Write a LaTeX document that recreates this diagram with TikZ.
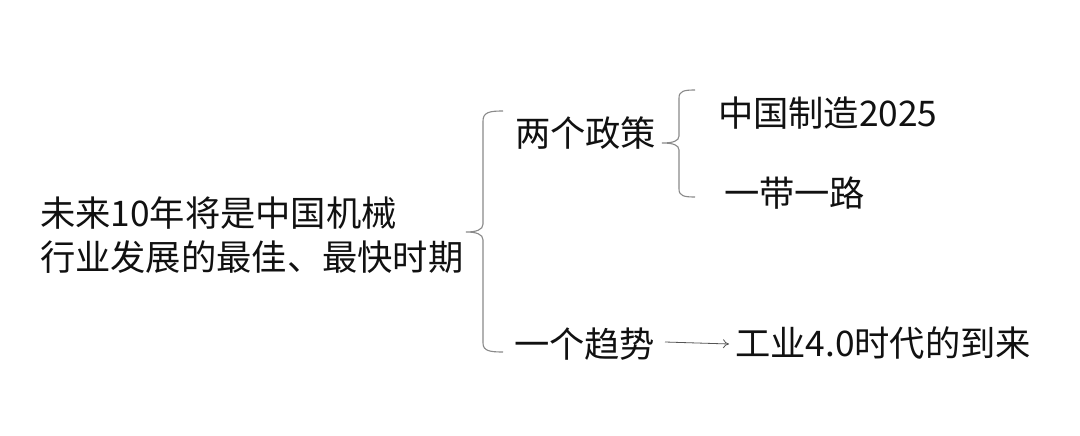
\documentclass[tikz,border=0pt]{standalone}
\usepackage{fontspec}
\newfontfamily\cjk{Noto Sans CJK SC}
\usetikzlibrary{arrows.meta}
\definecolor{txt}{HTML}{111111}
\definecolor{brc}{HTML}{8A8A8A}
\definecolor{arr}{HTML}{555555}
\begin{document}
\begin{tikzpicture}[x=1pt,y=-1pt,
  lbl/.style={inner sep=0pt,outer sep=0pt,anchor=west,text=txt,font=\cjk\fontsize{35.3}{44}\selectfont},
  bracepath/.style={draw=brc,line width=1.1pt},
  arrowline/.style={draw=arr,line width=0.8pt,-{To[length=6pt,width=9pt]}}]
\useasboundingbox[fill=white] (0,0) rectangle (1080,436);
\node[lbl,align=left] (root) at (40,235) {未来10年将是中国机械\\行业发展的最佳、最快时期};
\node[lbl] (pol) at (515,133) {两个政策};
\node[lbl] (tre) at (514,344) {一个趋势};
\node[lbl] (mic) at (718,113) {中国制造2025};
\node[lbl] (bri) at (724,193) {一带一路};
\node[lbl] (ind) at (735,343) {工业4.0时代的到来};
% big brace
\coordinate (bt) at (466,232);
\path[bracepath] (503,111) .. controls (490,111) and (483,112) .. (483,121) -- (483,224)
  .. controls (483,230) and (476,232) .. (bt)
  .. controls (476,232) and (483,234) .. (483,240) -- (483,343)
  .. controls (483,351) and (490,352) .. (503,352);
% small brace
\coordinate (st) at (662,143);
\path[bracepath] (695,90) .. controls (684,90) and (679,91) .. (679,98) -- (679,136)
  .. controls (679,141) and (673,143) .. (st)
  .. controls (673,143) and (679,145) .. (679,150) -- (679,189)
  .. controls (679,196) and (684,197) .. (695,197);
\draw[arrowline] (665,342) coordinate (as) -- ([xshift=-6pt,yshift=-1pt]ind.west);
\end{tikzpicture}
\end{document}
